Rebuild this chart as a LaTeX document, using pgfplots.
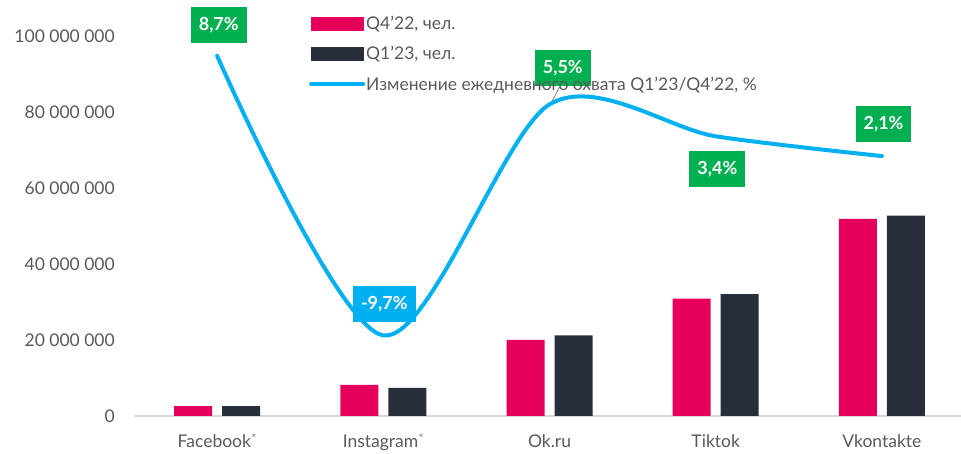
\documentclass[border=0pt]{standalone}
\usepackage{fontspec}
\setmainfont{Lato}
\usepackage{pgfplots}
\pgfplotsset{compat=1.18}

\definecolor{pinkbar}{HTML}{E6005C}
\definecolor{darkbar}{HTML}{272D3A}
\definecolor{cyanline}{HTML}{00B0F0}
\definecolor{greenbox}{HTML}{00B050}
\definecolor{txtgray}{HTML}{595959}
\definecolor{axgray}{HTML}{D9D9D9}

\newcommand{\tickfont}{\fontsize{17.5bp}{20bp}\selectfont}
\newcommand{\boxfont}{\fontsize{18bp}{20bp}\selectfont\bfseries}
\newcommand{\fnmark}{\raisebox{0.35ex}{\fontsize{13bp}{13bp}\selectfont\color{txtgray!70}*}}

\pgfplotsset{
  common/.style={
    at={(134bp,38bp)}, anchor=south west,
    scale only axis, width=831bp, height=380bp,
    xmin=-0.5, xmax=4.5,
  },
}
\tikzset{lbl/.style={text=white, font=\boxfont, minimum height=36bp, inner xsep=8bp, inner ysep=0pt}}

\begin{document}
\begin{tikzpicture}
\begin{axis}[
    common,
    ybar=10bp,
    bar width=38bp,
    ymin=0, ymax=100000000,
    scaled y ticks=false,
    xtick={0,1,2,3,4},
    xticklabels={Facebook\fnmark, Instagram\fnmark, Ok.ru, Tiktok, Vkontakte},
    ytick={0,20000000,40000000,60000000,80000000,100000000},
    yticklabels={0, 20 000 000, 40 000 000, 60 000 000, 80 000 000, 100 000 000},
    major tick length=0pt,
    axis x line*=bottom,
    axis y line*=left,
    x axis line style={draw=axgray, line width=1.5bp, -},
    y axis line style={draw=none},
    ticklabel style={font=\tickfont, text=txtgray},
    xticklabel style={anchor=base, inner sep=0pt, yshift=-31bp},
    yticklabel style={anchor=east, inner sep=0pt, xshift=-19bp},
    /pgf/number format/assume math mode=true,
  ]
  \addplot[draw=none, fill=pinkbar] coordinates {(0,2600000) (1,8200000) (2,20000000) (3,30900000) (4,51900000)};
  \addplot[draw=none, fill=darkbar] coordinates {(0,2600000) (1,7400000) (2,21200000) (3,32100000) (4,52700000)};
\end{axis}

\begin{axis}[
    common,
    ymin=-15, ymax=10,
    hide axis,
    clip=false,
    legend cell align=left,
    legend style={at={(0.2106,1.056)}, anchor=north west, draw=none, fill=none,
      font=\tickfont, text=txtgray, row sep=13.5bp, inner sep=0pt,
      nodes={inner sep=1bp}},
  ]
  \addlegendimage{legend image code/.code={\fill[pinkbar] (0bp,-6.5bp) rectangle (52bp,6.5bp);}}
  \addlegendentry{Q4'22, чел.}
  \addlegendimage{legend image code/.code={\fill[darkbar] (0bp,-6.5bp) rectangle (52bp,6.5bp);}}
  \addlegendentry{Q1'23, чел.}

  \node[lbl, fill=greenbox] at (axis cs:0.01,10.72) {8,7\%};
  \node[lbl, fill=cyanline] at (axis cs:1.006,-7.63) {-9,7\%};
  \node[lbl, fill=greenbox] at (axis cs:2.08,7.89) {5,5\%};
  \node[lbl, fill=greenbox] at (axis cs:3.01,1.25) {3,4\%};
  \node[lbl, fill=greenbox] at (axis cs:4.01,4.21) {2,1\%};
  \draw[gray, line width=0.8bp] (axis cs:2.06,6.64) -- (axis cs:2.01,5.59);

  \addplot[cyanline, line width=4bp, line cap=round, smooth, tension=0.5,
    legend image code/.code={\draw[cyanline, line width=4bp, line cap=round] (0bp,0bp) -- (52bp,0bp);}]
    coordinates {(0,8.7) (1,-9.7) (2,5.5) (3,3.4) (4,2.1)};
  \addlegendentry{Изменение ежедневного охвата Q1'23/Q4'22, \%}
\end{axis}
\pgfresetboundingbox
\useasboundingbox (0bp,0bp) rectangle (961bp,454bp);
\end{tikzpicture}
\end{document}
